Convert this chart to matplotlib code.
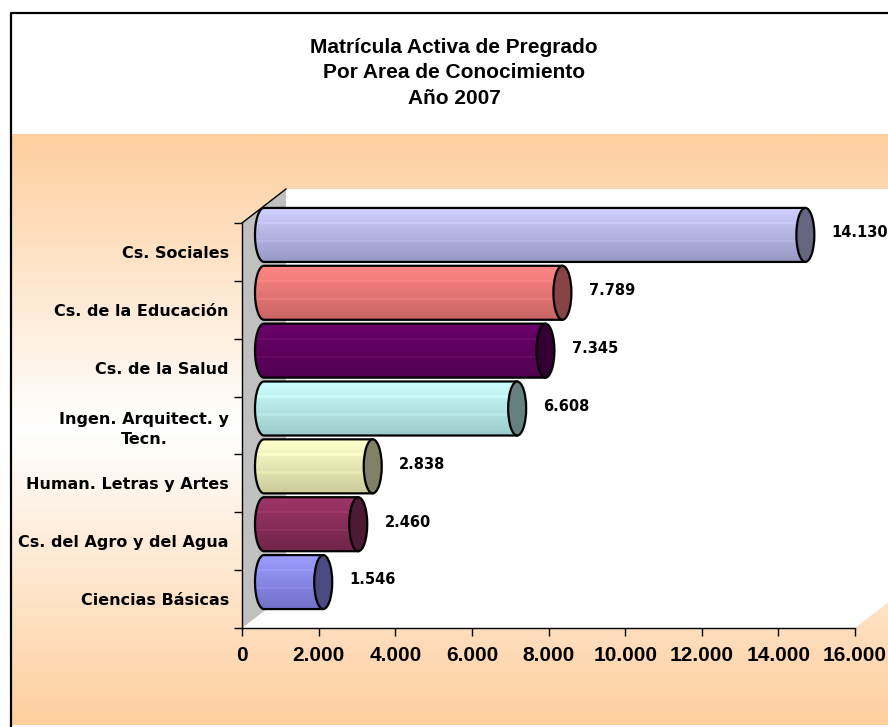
import numpy as np
import matplotlib
matplotlib.use("Agg")
import matplotlib.pyplot as plt
from matplotlib.patches import Polygon, Ellipse, PathPatch
from matplotlib.path import Path
from matplotlib.lines import Line2D
from matplotlib.ticker import FixedLocator, FuncFormatter
from matplotlib.colors import to_rgb

# ---------------- data ----------------
categories = ["Cs. Sociales", "Cs. de la Educación", "Cs. de la Salud",
              "Ingen. Arquitect. y\nTecn.", "Human. Letras y Artes",
              "Cs. del Agro y del Agua", "Ciencias Básicas"]
values = [14130, 7789, 7345, 6608, 2838, 2460, 1546]
top_colors = ["#CECEFF", "#FF8484", "#6A006A", "#CCFFFF", "#FFFFCC", "#9E3468", "#9C9CFF"]
bottom_colors = ["#9898C4", "#C86464", "#500050", "#9CCACA", "#CCCC9A", "#702448", "#7070C8"]
cap_colors = ["#666680", "#884444", "#330033", "#668080", "#808066", "#4D1A33", "#4A4A80"]
x_ticks = [0, 2000, 4000, 6000, 8000, 10000, 12000, 14000, 16000]
title = "Matrícula Activa de Pregrado\nPor Area de Conocimiento\nAño 2007"

W, H = 888, 727
fig = plt.figure(figsize=(W / 100, H / 100), dpi=100)

# ---------------- background (chart area) ----------------
bg = fig.add_axes([0, 0, 1, 1], zorder=0)
bg.set_xlim(0, W)
bg.set_ylim(H, 0)
bg.axis("off")
orange = np.array(to_rgb("#FECE9E"))
white = np.ones(3)
rows = np.linspace(0, 1, 300)
t = np.abs(rows - 0.5) / 0.5
img = white[None, :] + (orange - white)[None, :] * t[:, None]
img = np.repeat(img[:, None, :], 2, axis=1)
bg.imshow(img, extent=[11, W, 725, 134], aspect="auto", interpolation="bilinear", zorder=0)
bg.add_line(Line2D([10.5, 10.5, W], [726, 12.5, 12.5], color="black", lw=1.6, zorder=2))

fig.text(454 / W, 1 - 73 / H, title, ha="center", va="center", fontsize=15,
         fontweight="bold", family="Liberation Sans", linespacing=1.42)

# ---------------- main axes ----------------
x0p, x1p, ytp, ybp = 242, 855, 223, 628
ax = fig.add_axes([x0p / W, 1 - ybp / H, (x1p - x0p) / W, (ybp - ytp) / H], zorder=2)
ax.patch.set_visible(False)
n = len(categories)
ypos = n - 1 - np.arange(n)
xmax = x_ticks[-1]
ax.set_xlim(0, xmax)
ax.set_ylim(-0.5, n - 0.5)

sx = ax.bbox.width / xmax
sy = ax.bbox.height / n
ddx = 44 / sx
ddy = 34 / sy

# walls
back = Polygon([(ddx, -0.5 + ddy), (xmax + ddx, -0.5 + ddy), (xmax + ddx, n - 0.5 + ddy),
                (ddx, n - 0.5 + ddy)], closed=True, fc="white", ec="none", zorder=0.5, clip_on=False)
floor = Polygon([(0, -0.5), (xmax, -0.5), (xmax + ddx, -0.5 + ddy), (ddx, -0.5 + ddy)],
                closed=True, fc="white", ec="none", zorder=0.5, clip_on=False)
side = Polygon([(0, -0.5), (ddx, -0.5 + ddy), (ddx, n - 0.5 + ddy), (0, n - 0.5)],
               closed=True, fc="#C0C0C0", ec="none", zorder=0.6, clip_on=False)
for p in (back, floor, side):
    ax.add_patch(p)
ax.add_line(Line2D([0, ddx], [n - 0.5, n - 0.5 + ddy], color="black", lw=1.0, zorder=0.7, clip_on=False))

# bars (cylinders)
h = 27 / sy
a = 9 / sx
N = 24
for i, v in enumerate(values):
    yc = ypos[i] + ddy / 2
    xa = ddx / 2
    xb = v + ddx / 2
    ctop = np.array(to_rgb(top_colors[i]))
    cbot = np.array(to_rgb(bottom_colors[i]))
    for k in range(N):
        ylo = yc - h + 2 * h * k / N
        yhi = min(ylo + 2 * h / N * 1.3, yc + h)
        yy = np.linspace(ylo, yhi, 5)
        xs = xa - a * np.sqrt(np.clip(1 - ((yy - yc) / h) ** 2, 0, 1))
        pts = list(zip(xs, yy)) + [(xb, yhi), (xb, ylo)]
        tt = k / (N - 1)
        col = cbot + (ctop - cbot) * tt
        if k in (9, 17):
            col = np.clip(col + 0.035, 0, 1)
        ax.add_patch(Polygon(pts, closed=True, fc=col, ec="none", lw=0, zorder=4,
                             clip_on=False, antialiased=False))
    th = np.linspace(np.pi / 2, 3 * np.pi / 2, 40)
    verts = [(xb, yc + h)] + [(xa + a * np.cos(tq), yc + h * np.sin(tq)) for tq in th] + [(xb, yc - h)]
    ax.add_patch(PathPatch(Path(verts), fill=False, ec="black", lw=1.6, zorder=5,
                           clip_on=False, capstyle="round", joinstyle="round"))
    ax.add_patch(Ellipse((xb, yc), 2 * a, 2 * h, fc=cap_colors[i], ec="black", lw=1.6,
                         zorder=6, clip_on=False))
    ax.annotate(f"{v:,}".replace(",", "."), xy=(xb, yc), xytext=(19, 1.5),
                textcoords="offset points", ha="left", va="center", fontsize=10.5,
                fontweight="bold", family="DejaVu Sans", annotation_clip=False, zorder=7)

# axes styling
for s in ("top", "right"):
    ax.spines[s].set_visible(False)
for s in ("left", "bottom"):
    ax.spines[s].set_color("black")
    ax.spines[s].set_linewidth(1.0)

ax.yaxis.set_major_locator(FixedLocator(ypos))
ax.set_yticklabels(categories)
ax.yaxis.set_minor_locator(FixedLocator(np.arange(-0.5, n, 1.0)))
ax.tick_params(axis="y", which="major", length=0, pad=9.5)
ax.tick_params(axis="y", which="minor", length=6, width=1.0, color="black", direction="out")
for lab in ax.get_yticklabels():
    lab.set_fontsize(11.5)
    lab.set_fontweight("bold")
    lab.set_family("DejaVu Sans")
    if "\n" in lab.get_text():
        lab.set_multialignment("center")
        lab.set_linespacing(1.4)

ax.xaxis.set_major_locator(FixedLocator(x_ticks))
ax.xaxis.set_major_formatter(FuncFormatter(lambda x, p: f"{int(x):,}".replace(",", ".")))
ax.tick_params(axis="x", length=6, width=1.0, color="black", direction="out", pad=7)
for lab in ax.get_xticklabels():
    lab.set_fontsize(15)
    lab.set_fontweight("bold")
    lab.set_family("Liberation Sans")

fig.savefig("out.png", dpi=100)
